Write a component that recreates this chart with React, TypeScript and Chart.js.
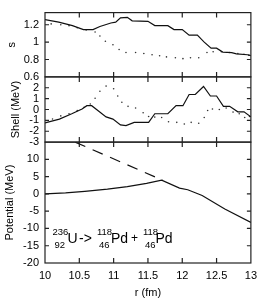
import React, { useEffect, useRef } from 'react';
import { Chart, registerables } from 'chart.js';
Chart.register(...registerables);

// ---- data ----
const xTicks = [10, 10.5, 11, 11.5, 12, 12.5, 13];
const sTicks = [0.6, 0.8, 1, 1.2];
const shellTicks = [-3, -2, -1, 0, 1, 2];
const potTicks = [-20, -15, -10, -5, 0, 5, 10];

const sR = [10.0, 10.2, 10.4, 10.56, 10.7, 10.8, 10.96, 11.03, 11.1, 11.2, 11.27, 11.5, 11.6, 11.79, 11.88, 12.0, 12.1, 12.22, 12.32, 12.42, 12.5, 12.59, 12.72, 12.79, 12.95, 13.0];
const sVal = [1.26, 1.23, 1.19, 1.145, 1.145, 1.18, 1.22, 1.23, 1.28, 1.285, 1.245, 1.24, 1.19, 1.19, 1.145, 1.145, 1.08, 1.08, 1.0, 0.93, 0.93, 0.885, 0.88, 0.865, 0.855, 0.845];

const sDotR = [10.09, 10.23, 10.35, 10.47, 10.6, 10.73, 10.8, 10.88, 10.99, 11.08, 11.18, 11.32, 11.44, 11.56, 11.67, 11.77, 11.9, 12.01, 12.12, 12.24, 12.36, 12.45, 12.57, 12.69, 12.81, 12.9, 12.97];
const sDotVal = [1.21, 1.2, 1.19, 1.165, 1.14, 1.116, 1.07, 1.01, 0.97, 0.915, 0.88, 0.88, 0.87, 0.855, 0.843, 0.83, 0.82, 0.81, 0.82, 0.82, 0.88, 0.89, 0.89, 0.88, 0.87, 0.86, 0.85];

const shellR = [10.0, 10.21, 10.39, 10.54, 10.61, 10.68, 10.77, 10.89, 10.99, 11.1, 11.18, 11.3, 11.51, 11.6, 11.79, 11.91, 12.01, 12.1, 12.19, 12.31, 12.41, 12.5, 12.6, 12.69, 12.81, 12.9, 13.0];
const shellVal = [-1.24, -0.88, -0.39, 0.05, 0.35, 0.35, -0.09, -0.68, -0.88, -1.42, -1.48, -1.18, -1.18, -0.39, -0.39, 0.35, 0.35, 1.38, 1.38, 2.12, 1.24, 1.24, 0.29, 0.29, -0.21, -0.21, -0.68];

const shellDotR = [10.11, 10.23, 10.35, 10.47, 10.57, 10.66, 10.73, 10.8, 10.89, 11.0, 11.06, 11.12, 11.21, 11.32, 11.43, 11.51, 11.6, 11.7, 11.8, 11.92, 12.03, 12.13, 12.24, 12.32, 12.37, 12.44, 12.54, 12.64, 12.74, 12.83, 12.91, 12.98];
const shellDotVal = [-0.88, -0.59, -0.39, -0.1, 0.2, 0.5, 1.03, 1.68, 2.15, 1.91, 1.24, 0.67, 0.29, 0.14, -0.3, -0.65, -0.7, -0.74, -1.12, -1.18, -1.33, -1.18, -1.27, -0.74, -0.09, 0.05, 0.0, 0.14, -0.24, -0.39, -0.74, -0.65];

const potR = [10.0, 10.3, 10.58, 10.91, 11.2, 11.48, 11.7, 11.96, 12.08, 12.29, 12.62, 13.0];
const potVal = [0, 0.28, 0.74, 1.39, 2.1, 3.05, 4.0, 1.67, 1.2, -0.47, -4.36, -8.25];

const coulR = [10.44, 11.72];
const coulVal = [15, 3.9];

const FONT = 'Liberation Sans, Arial, Helvetica, sans-serif';

const pts = (xs: number[], ys: number[]) => xs.map((x, i) => ({ x, y: ys[i] }));
const fmt = (v: number) => String(Number(v.toFixed(2)));

const framePlugin = {
  id: 'frames',
  afterDraw(chart: any) {
    const ctx = chart.ctx;
    const xs = chart.scales.x;
    const defs: Record<string, number[]> = { yS: sTicks, yShell: shellTicks, yPot: potTicks };
    ctx.save();
    ctx.strokeStyle = '#222';
    ctx.lineWidth = 1.2;
    for (const id of ['yS', 'yShell', 'yPot']) {
      const s = chart.scales[id];
      const top = s.top, bottom = s.bottom, left = xs.left, right = xs.right;
      ctx.strokeRect(left, top, right - left, bottom - top);
      ctx.beginPath();
      for (const v of defs[id]) {
        const py = s.getPixelForValue(v);
        if (py <= top + 0.5 || py >= bottom - 0.5) continue;
        ctx.moveTo(left, py); ctx.lineTo(left + 4, py);
        ctx.moveTo(right, py); ctx.lineTo(right - 4, py);
      }
      for (const v of xTicks) {
        const px = xs.getPixelForValue(v);
        if (px <= left + 0.5 || px >= right - 0.5) continue;
        ctx.moveTo(px, top); ctx.lineTo(px, top + 5);
        ctx.moveTo(px, bottom); ctx.lineTo(px, bottom - 5);
      }
      ctx.stroke();
    }
    // reaction annotation
    const p = chart.scales.yPot;
    const L = xs.left;
    const base = p.bottom - 20;
    const sup = p.bottom - 28;
    const sub = p.bottom - 15;
    ctx.fillStyle = '#000';
    ctx.textBaseline = 'alphabetic';
    ctx.textAlign = 'left';
    const small = `9.5px ${FONT}`;
    const big = `14px ${FONT}`;
    const put = (t: string, dx: number, y: number, f: string) => { ctx.font = f; ctx.fillText(t, L + dx, y); };
    put('236', 7.5, sup, small);
    put('92', 9.5, sub, small);
    put('U', 22.5, base, big);
    put('->', 34, base, `14px ${FONT}`);
    put('118', 52, sup, small);
    put('46', 54, sub, small);
    put('Pd', 66, base, big);
    put('+', 86, base - 1, `12px ${FONT}`);
    put('118', 98, sup, small);
    put('46', 100, sub, small);
    put('Pd', 110.5, base, big);
    ctx.restore();
  },
};

export default function App() {
  const ref = useRef<HTMLCanvasElement | null>(null);
  useEffect(() => {
    if (!ref.current) return;
    const font = { family: FONT, size: 11 };
    const yAxis = (min: number, max: number, ticks: number[], hide: number[], weight: number, title: string, tpad: number) => ({
      type: 'linear' as const,
      position: 'left' as const,
      stack: 'panels',
      stackWeight: weight,
      min,
      max,
      afterBuildTicks: (s: any) => { s.ticks = ticks.map((v) => ({ value: v })); },
      afterFit: (s: any) => { s.width = 45; },
      grid: { display: false, drawTicks: false },
      border: { display: false },
      ticks: {
        autoSkip: false,
        padding: 6,
        color: '#000',
        font,
        callback: (v: any) => (hide.includes(Number(v)) ? null : fmt(Number(v))),
      },
      title: { display: true, text: title, color: '#000', font, padding: { top: tpad, bottom: 0 } },
    });
    const chart = new Chart(ref.current, {
      type: 'scatter',
      data: {
        datasets: [
          { data: pts(potR, potVal), yAxisID: 'yPot', showLine: true, borderColor: '#111', borderWidth: 1.2, pointRadius: 0 },
          { data: pts(coulR, coulVal), yAxisID: 'yPot', showLine: true, borderColor: '#111', borderWidth: 1.2, borderDash: [11, 8], pointRadius: 0 },
          { data: pts(shellR, shellVal), yAxisID: 'yShell', showLine: true, borderColor: '#111', borderWidth: 1.2, pointRadius: 0 },
          { data: pts(shellDotR, shellDotVal), yAxisID: 'yShell', showLine: false, pointRadius: 0.8, pointBorderWidth: 0, pointBackgroundColor: '#333' },
          { data: pts(sR, sVal), yAxisID: 'yS', showLine: true, borderColor: '#111', borderWidth: 1.2, pointRadius: 0 },
          { data: pts(sDotR, sDotVal), yAxisID: 'yS', showLine: false, pointRadius: 0.8, pointBorderWidth: 0, pointBackgroundColor: '#333' },
        ],
      },
      options: {
        responsive: false,
        animation: false,
        devicePixelRatio: 1,
        layout: { padding: { left: 0, top: 2, right: 6, bottom: 0 } },
        plugins: { legend: { display: false }, tooltip: { enabled: false } },
        elements: { line: { tension: 0 } },
        scales: {
          x: {
            type: 'linear',
            min: 10,
            max: 13,
            afterBuildTicks: (s: any) => { s.ticks = xTicks.map((v) => ({ value: v })); },
            afterFit: (s: any) => { s.height = 37; },
            grid: { display: false, drawTicks: false },
            border: { display: false },
            ticks: { autoSkip: false, maxRotation: 0, padding: 6, color: '#000', font, callback: (v: any) => fmt(Number(v)) },
            title: { display: true, text: 'r (fm)', color: '#000', font, padding: { top: 0, bottom: 0 } },
          },
          yPot: yAxis(-20, 15, potTicks, [15], 126, 'Potential (MeV)', 3),
          yShell: yAxis(-3, 3, shellTicks, [3], 68, 'Shell (MeV)', 9),
          yS: yAxis(0.6, 1.34, sTicks, [], 67, 's', 5.5),
        },
      },
      plugins: [framePlugin],
    } as any);
    return () => chart.destroy();
  }, []);
  return (
    <div style={{ position: 'absolute', left: 0, top: 0, width: 263, height: 300, background: '#fff' }}>
      <canvas ref={ref} width={263} height={300} style={{ display: 'block', width: 263, height: 300 }} />
    </div>
  );
}
